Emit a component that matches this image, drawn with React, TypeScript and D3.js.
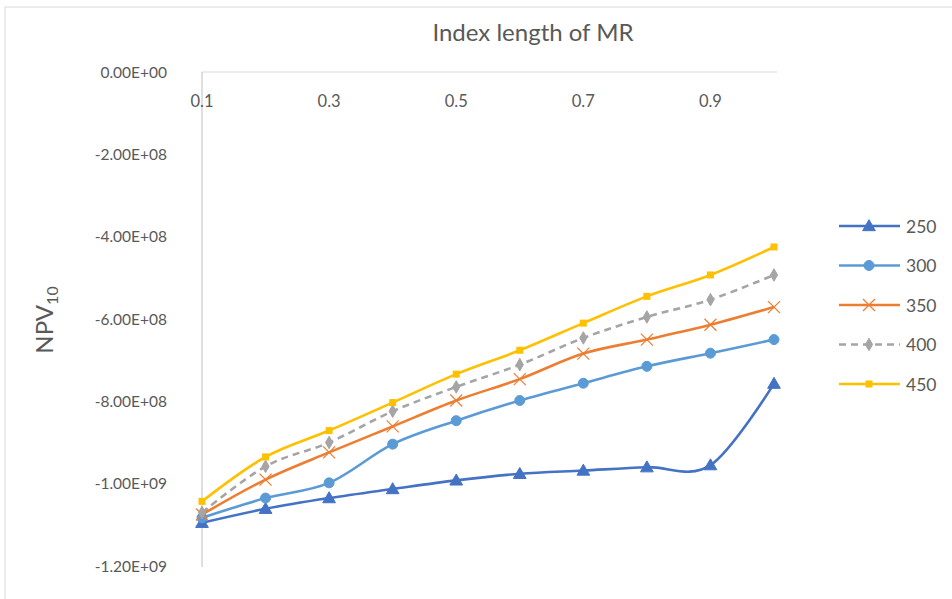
import React from "react";
import * as d3 from "d3";

const categories = ["0.1", "0.2", "0.3", "0.4", "0.5", "0.6", "0.7", "0.8", "0.9", "1.0"];
const tickLabels = ["0.1", "0.3", "0.5", "0.7", "0.9"];
const yTicks = [0, -2e8, -4e8, -6e8, -8e8, -1e9, -1.2e9];

const s250 = [-1.095e9, -1.061e9, -1.035e9, -1.013e9, -0.992e9, -0.976e9, -0.968e9, -0.960e9, -0.955e9, -0.757e9];
const s300 = [-1.083e9, -1.035e9, -0.998e9, -0.904e9, -0.847e9, -0.798e9, -0.756e9, -0.715e9, -0.683e9, -0.650e9];
const s350 = [-1.075e9, -0.990e9, -0.924e9, -0.861e9, -0.798e9, -0.746e9, -0.684e9, -0.650e9, -0.614e9, -0.571e9];
const s400 = [-1.070e9, -0.958e9, -0.900e9, -0.824e9, -0.765e9, -0.711e9, -0.646e9, -0.595e9, -0.553e9, -0.493e9];
const s450 = [-1.043e9, -0.935e9, -0.871e9, -0.803e9, -0.734e9, -0.676e9, -0.610e9, -0.545e9, -0.493e9, -0.425e9];

const seriesNames = ["250", "300", "350", "400", "450"];
const seriesValues = [s250, s300, s350, s400, s450];
const colors = ["#4472C4", "#5B9BD5", "#ED7D31", "#A5A5A5", "#FFC000"];
const markers = ["triangle", "circle", "x", "diamond", "square"];
const dashes = [null, null, null, "7,5", null];

const FONT = "Lato, 'Open Sans', sans-serif";
const TXT = "#595959";

function Marker({ type, x, y, color }: { type: string; x: number; y: number; color: string }) {
  if (type === "triangle") {
    const p = d3.symbol(d3.symbolTriangle, 70)();
    return <path d={p || ""} transform={`translate(${x},${y + 1})`} fill={color} stroke={color} strokeWidth={1} />;
  }
  if (type === "circle") return <circle cx={x} cy={y} r={5} fill={color} stroke={color} />;
  if (type === "x")
    return (
      <g stroke={color} strokeWidth={1.2} fill="none">
        <line x1={x - 6} y1={y - 6} x2={x + 6} y2={y + 6} />
        <line x1={x - 6} y1={y + 6} x2={x + 6} y2={y - 6} />
      </g>
    );
  if (type === "diamond") {
    const p = d3.symbol(d3.symbolDiamond, 45)();
    return <path d={p || ""} transform={`translate(${x},${y})`} fill={color} stroke={color} />;
  }
  return <rect x={x - 3.5} y={y - 3.5} width={7} height={7} fill={color} />;
}

export default function App() {
  const W = 952, H = 599;
  const x = d3.scalePoint<string>().domain(categories).range([202, 774]);
  const y = d3.scaleLinear().domain([-1.2e9, 0]).range([566, 72]);
  const line = d3
    .line<number>()
    .x((_, i) => x(categories[i]) as number)
    .y((d) => y(d))
    .curve(d3.curveCardinal.tension(0));
  const fmt = (v: number) => {
    if (v === 0) return "0.00E+00";
    const e = Math.floor(Math.log10(Math.abs(v)));
    const m = v / Math.pow(10, e);
    return `${m.toFixed(2)}E+${String(e).padStart(2, "0")}`;
  };
  const legendY0 = 226, legendStep = 39.5;
  return (
    <svg width={W} height={H} style={{ position: "absolute", left: 0, top: 0, background: "#fff" }}>
      <rect x={5} y={7} width={960} height={600} fill="#fff" stroke="#d9d9d9" strokeWidth={1} />
      <text x={533} y={41} textAnchor="middle" fontFamily={FONT} fontSize={24} fill={TXT}>
        Index length of MR
      </text>
      {/* axes */}
      <line x1={202} y1={y(0)} x2={777} y2={y(0)} stroke="#d9d9d9" strokeWidth={1} />
      <line x1={202} y1={y(0)} x2={202} y2={567} stroke="#bfbfbf" strokeWidth={1} />
      {yTicks.map((t) => (
        <text key={t} x={167} y={y(t) + 5.5} textAnchor="end" fontFamily={FONT} fontSize={15.5} fill={TXT}>
          {fmt(t)}
        </text>
      ))}
      {tickLabels.map((c) => (
        <text key={c} x={x(c) as number} y={107} textAnchor="middle" fontFamily={FONT} fontSize={16.5} fill={TXT}>
          {c}
        </text>
      ))}
      <text transform="translate(53,320) rotate(-90)" textAnchor="middle" fontFamily={FONT} fontSize={24} fill={TXT}>
        NPV<tspan fontSize={16} dy={5}>10</tspan>
      </text>
      {seriesValues.map((vals, si) => (
        <g key={seriesNames[si]}>
          <path
            d={line(vals) || ""}
            fill="none"
            stroke={colors[si]}
            strokeWidth={2.6}
            strokeDasharray={dashes[si] || undefined}
            strokeLinejoin="round"
          />
          {vals.map((v, i) => (
            <Marker key={i} type={markers[si]} x={x(categories[i]) as number} y={y(v)} color={colors[si]} />
          ))}
        </g>
      ))}
      {seriesNames.map((n, si) => {
        const ly = legendY0 + si * legendStep;
        return (
          <g key={n}>
            <line x1={839} y1={ly} x2={900} y2={ly} stroke={colors[si]} strokeWidth={2.6} strokeDasharray={dashes[si] || undefined} />
            <Marker type={markers[si]} x={869} y={ly} color={colors[si]} />
            <text x={906} y={ly + 6.5} fontFamily={FONT} fontSize={17.5} fill={TXT}>
              {n}
            </text>
          </g>
        );
      })}
    </svg>
  );
}
